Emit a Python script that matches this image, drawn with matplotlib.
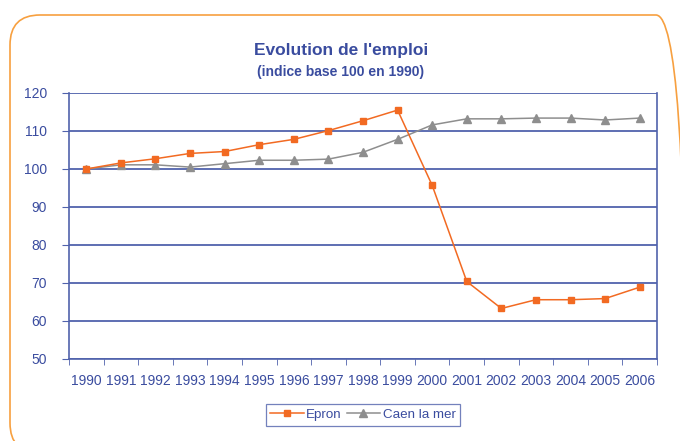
# Evolution de l'emploi - indice base 100 en 1990
import matplotlib.pyplot as plt
from matplotlib.patches import FancyBboxPatch
from matplotlib.ticker import FixedLocator
import numpy as np

plt.rcParams['font.family'] = ['Liberation Sans', 'DejaVu Sans']

# Data
years = ['1990', '1991', '1992', '1993', '1994', '1995', '1996', '1997', '1998',
         '1999', '2000', '2001', '2002', '2003', '2004', '2005', '2006']
epron = [100, 101.6, 102.7, 104.1, 104.6, 106.4, 107.8, 110.1, 112.7,
         115.5, 95.7, 70.4, 63.3, 65.6, 65.6, 65.9, 68.9]
caen = [100, 101.1, 101.1, 100.5, 101.4, 102.3, 102.3, 102.6, 104.4,
        107.8, 111.6, 113.2, 113.2, 113.4, 113.4, 112.9, 113.4]

txt_col = '#3A4C9F'
grid_col = '#5062AC'
orange = '#F26A22'
grey = '#8E8E8E'

fig = plt.figure(figsize=(6.8, 4.41), dpi=100)

# rounded orange frame (in inches so the corners stay round)
frame = FancyBboxPatch((0.10, -0.12), 6.76, 4.38,
                       boxstyle='round,pad=0,rounding_size=0.3',
                       transform=fig.dpi_scale_trans, fill=False,
                       edgecolor='#F7A040', linewidth=1.2)
fig.patches.append(frame)

ax = fig.add_axes([69/680, 1 - 359/441, (657 - 69)/680, (359 - 93)/441])

x = np.arange(len(years))
ax.plot(x, epron, color=orange, marker='s', markersize=5, linewidth=1.1,
        label='Epron', zorder=4)
ax.plot(x, caen, color=grey, marker='^', markersize=6, linewidth=1.1,
        label='Caen la mer', zorder=3)

ax.set_xlim(-0.5, len(years) - 0.5)
ax.set_ylim(50, 120)
ax.set_yticks(range(50, 121, 10))
ax.set_xticks(x)
ax.set_xticklabels(years)
ax.xaxis.set_minor_locator(FixedLocator(np.arange(-0.5, len(years), 1)))
ax.tick_params(axis='x', which='major', length=0, pad=11, labelsize=10,
               colors=txt_col)
ax.tick_params(axis='x', which='minor', length=4, direction='out',
               color=grid_col)
ax.tick_params(axis='y', length=5, direction='out', pad=11, labelsize=10,
               colors=txt_col, color=grid_col)

ax.yaxis.grid(True, color=grid_col, linewidth=1.3)
ax.set_axisbelow(True)
for side in ['left', 'right', 'bottom']:
    ax.spines[side].set_color(grid_col)
    ax.spines[side].set_linewidth(1.2)
ax.spines['top'].set_visible(False)

fig.text(341/680, 1 - 50/441, "Evolution de l'emploi", ha='center',
         va='center', fontsize=12.5, fontweight='bold', color=txt_col)
fig.text(341/680, 1 - 72/441, "(indice base 100 en 1990)", ha='center',
         va='center', fontsize=10, fontweight='bold', color=txt_col)

leg = ax.legend(loc='center', bbox_to_anchor=(0.5, -0.21), ncol=2,
                frameon=True, fancybox=False, fontsize=9.6, handlelength=2.5,
                columnspacing=0.35, handletextpad=0.2, borderpad=0.35)
leg.get_frame().set_edgecolor(grid_col)
leg.get_frame().set_linewidth(0.9)
for t in leg.get_texts():
    t.set_color(txt_col)

plt.savefig('out.png', dpi=100)
